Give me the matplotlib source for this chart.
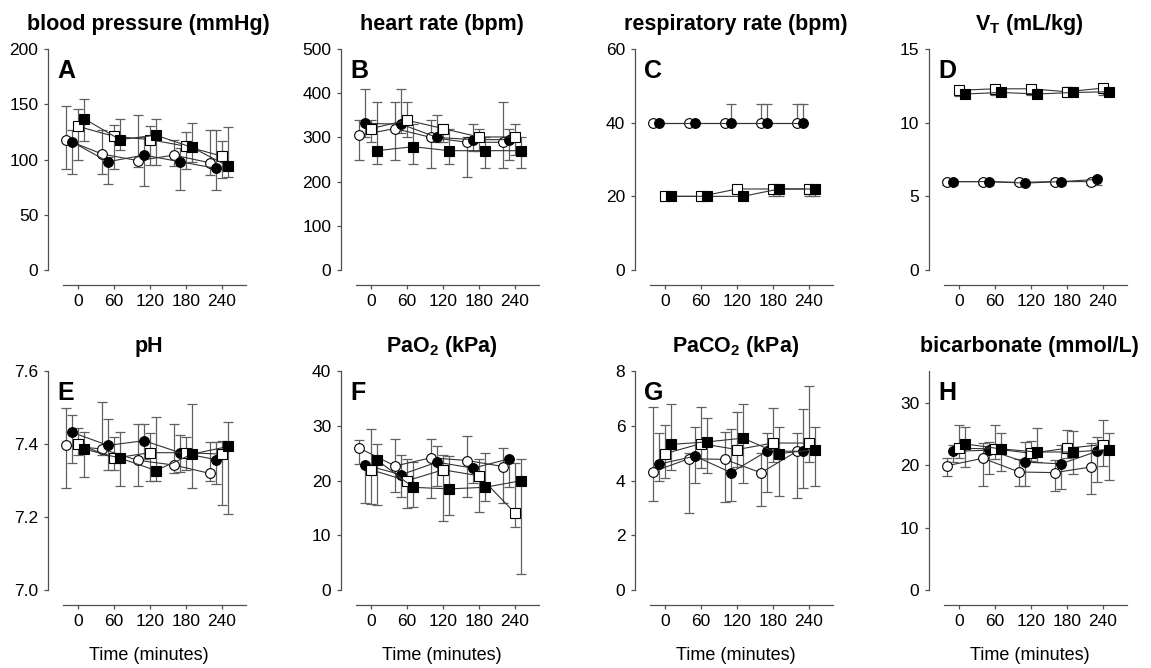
"""
    Haemodynamic and blood gas time courses, four groups, panels A-H
"""

import numpy as np
import matplotlib
import matplotlib.pyplot as plt
from matplotlib.ticker import FormatStrFormatter

matplotlib.use('agg')

plt.rcParams['font.family'] = ['Liberation Sans', 'DejaVu Sans']
plt.rcParams['mathtext.fontset'] = 'custom'
plt.rcParams['mathtext.rm'] = 'Liberation Sans'
plt.rcParams['mathtext.bf'] = 'Liberation Sans:bold'

# sampling times (minutes); groups are drawn side by side around each time
times = [0, 60, 120, 180, 240]
groupShift = [-20, -10, 0, 10]
# rows: open circle, filled circle, open square, filled square

# A blood pressure (mmHg)
bpMean = [[118, 105, 99, 104, 97], [116, 98, 104, 98, 92],
          [130, 121, 118, 112, 103], [137, 118, 122, 111, 94]]
bpLo = [[91, 87, 93, 94, 86], [87, 78, 76, 72, 72],
        [100, 91, 95, 91, 83], [117, 109, 95, 98, 84]]
bpHi = [[148, 127, 140, 118, 127], [127, 102, 120, 110, 127],
        [146, 131, 130, 125, 117], [155, 137, 137, 133, 129]]

# B heart rate (bpm)
hrMean = [[305, 320, 300, 289, 289], [332, 330, 300, 295, 295],
          [320, 339, 320, 301, 301], [270, 279, 270, 270, 270]]
hrLo = [[250, 250, 230, 210, 230], [300, 310, 290, 270, 250],
        [290, 300, 290, 270, 260], [240, 240, 240, 230, 230]]
hrHi = [[340, 380, 340, 300, 380], [410, 410, 350, 330, 320],
        [340, 380, 320, 320, 330], [380, 330, 320, 300, 300]]

# C respiratory rate (bpm)
rrMean = [[40, 40, 40, 40, 40], [40, 40, 40, 40, 40],
          [20, 20, 22, 22, 22], [20, 20, 20, 22, 22]]
rrLo = [[40, 40, 40, 40, 40], [40, 40, 40, 40, 40],
        [20, 20, 22, 20, 20], [20, 20, 20, 20, 20]]
rrHi = [[40, 40, 40, 45, 45], [40, 40, 45, 45, 45],
        [20, 20, 22, 22, 22], [20, 20, 20, 22, 22]]

# D tidal volume (mL/kg)
vtMean = [[6.0, 6.0, 5.95, 6.0, 6.0], [6.0, 6.0, 5.9, 6.0, 6.15],
          [12.2, 12.3, 12.3, 12.1, 12.35], [11.95, 12.05, 11.95, 12.05, 12.1]]
vtLo = [[5.8, 5.85, 5.85, 5.85, 5.8], [5.75, 5.8, 5.8, 5.8, 5.75],
        [11.8, 11.85, 11.85, 11.9, 11.85], [11.8, 11.85, 11.85, 11.85, 11.8]]
vtHi = [[6.1, 6.1, 6.05, 6.1, 6.1], [6.1, 6.1, 6.0, 6.1, 6.3],
        [12.35, 12.55, 12.5, 12.4, 12.6], [12.1, 12.2, 12.1, 12.2, 12.3]]

# E pH
phMean = [[7.397, 7.387, 7.356, 7.343, 7.320], [7.433, 7.397, 7.410, 7.377, 7.358],
          [7.401, 7.362, 7.377, 7.377, 7.373], [7.387, 7.362, 7.328, 7.373, 7.394]]
phLo = [[7.28, 7.37, 7.285, 7.32, 7.30], [7.35, 7.33, 7.36, 7.325, 7.29],
        [7.37, 7.33, 7.30, 7.33, 7.233], [7.31, 7.285, 7.30, 7.28, 7.21]]
phHi = [[7.50, 7.515, 7.455, 7.457, 7.407], [7.48, 7.47, 7.455, 7.425, 7.407],
        [7.445, 7.42, 7.43, 7.42, 7.41], [7.435, 7.435, 7.475, 7.51, 7.462]]

# F PaO2 (kPa)
pao2Mean = [[26.0, 22.7, 24.2, 23.7, 22.6], [22.9, 21.1, 23.4, 22.3, 24.0],
            [22.0, 20.0, 22.0, 20.9, 14.1], [23.8, 18.8, 18.5, 18.8, 20.0]]
pao2Lo = [[23.0, 18.0, 16.8, 17.0, 16.0], [16.0, 17.0, 19.0, 19.6, 18.8],
          [15.7, 15.0, 12.7, 14.2, 11.5], [15.5, 15.1, 13.7, 16.3, 3.0]]
pao2Hi = [[27.5, 27.6, 27.7, 28.2, 26.0], [22.9, 24.7, 26.3, 22.3, 24.0],
          [29.5, 24.0, 24.7, 24.0, 23.2], [26.8, 23.5, 24.6, 25.0, 24.0]]

# G PaCO2 (kPa)
paco2Mean = [[4.33, 4.81, 4.78, 4.29, 5.08], [4.61, 4.90, 4.30, 5.08, 5.08],
             [4.99, 5.36, 5.14, 5.38, 5.38], [5.33, 5.42, 5.56, 4.99, 5.14]]
paco2Lo = [[3.27, 2.82, 3.22, 3.08, 3.35], [4.0, 3.9, 3.25, 3.6, 3.75],
           [4.1, 4.45, 4.5, 4.7, 4.68], [4.4, 4.27, 3.92, 3.45, 3.8]]
paco2Hi = [[6.7, 5.0, 5.8, 5.0, 5.75], [5.75, 5.97, 5.9, 5.75, 6.62],
           [6.05, 6.7, 6.52, 6.67, 7.47], [6.8, 6.3, 6.8, 5.95, 5.98]]

# H bicarbonate (mmol/L)
hco3Mean = [[19.9, 21.1, 18.9, 18.8, 19.7], [22.2, 22.4, 20.5, 20.2, 22.2],
            [22.7, 22.6, 21.9, 22.7, 23.3], [23.4, 22.6, 22.1, 22.1, 22.5]]
hco3Lo = [[18.2, 16.7, 16.6, 15.9, 15.4], [20.5, 18.5, 16.7, 16.2, 17.3],
          [21.2, 21.0, 20.6, 21.2, 19.9], [19.7, 19.0, 20.5, 18.5, 17.6]]
hco3Hi = [[21.1, 23.5, 21.0, 20.8, 23.5], [23.3, 23.7, 23.7, 23.2, 24.5],
          [26.5, 26.4, 23.8, 25.7, 27.2], [26.1, 25.1, 26.0, 25.4, 25.1]]

panels = [
    ('blood pressure (mmHg)', 'A', bpMean, bpLo, bpHi, [0, 50, 100, 150, 200], 200, '%d'),
    ('heart rate (bpm)', 'B', hrMean, hrLo, hrHi, [0, 100, 200, 300, 400, 500], 500, '%d'),
    ('respiratory rate (bpm)', 'C', rrMean, rrLo, rrHi, [0, 20, 40, 60], 60, '%d'),
    (r'$\mathbf{V_T}$ (mL/kg)', 'D', vtMean, vtLo, vtHi, [0, 5, 10, 15], 15, '%d'),
    ('pH', 'E', phMean, phLo, phHi, [7.0, 7.2, 7.4, 7.6], 7.6, '%.1f'),
    (r'$\mathbf{PaO_2}$ (kPa)', 'F', pao2Mean, pao2Lo, pao2Hi, [0, 10, 20, 30, 40], 40, '%d'),
    (r'$\mathbf{PaCO_2}$ (kPa)', 'G', paco2Mean, paco2Lo, paco2Hi, [0, 2, 4, 6, 8], 8, '%d'),
    ('bicarbonate (mmol/L)', 'H', hco3Mean, hco3Lo, hco3Hi, [0, 10, 20, 30], 35, '%d'),
]

markers = [('o', 'white'), ('o', 'black'), ('s', 'white'), ('s', 'black')]
spineColor = '#505050'
barColor = '#606060'
lineColor = '#333333'

lefts = [0.0417, 0.2963, 0.5517, 0.8071]
rows = [(0.5958, 0.3308), (0.1168, 0.3271)]
axW = 0.1746


def plotPanel(ax, title, letter, mean, lo, hi, yticks, ytop, fmt, bottomRow):
    """ draw one panel with the four groups, error bars and axis styling """
    mean = np.array(mean)
    lo = np.array(lo)
    hi = np.array(hi)
    for g in range(4):
        x = np.array(times) + groupShift[g]
        yerr = [mean[g] - lo[g], hi[g] - mean[g]]
        ax.errorbar(x, mean[g], yerr=yerr, fmt='none', ecolor=barColor,
                    elinewidth=0.9, capsize=3.5, capthick=0.9, zorder=1,
                    clip_on=False)
    for g in range(4):
        x = np.array(times) + groupShift[g]
        m, fc = markers[g]
        ax.plot(x, mean[g], '-', color=lineColor, linewidth=0.8,
                marker=m, markersize=7 if m == 'o' else 6.6,
                markerfacecolor=fc, markeredgecolor='black',
                markeredgewidth=0.8, zorder=3 + g, clip_on=False)

    ax.set_xlim(-50, 285)
    ax.set_ylim(yticks[0], ytop)
    ax.set_yticks(yticks)
    ax.yaxis.set_major_formatter(FormatStrFormatter(fmt))
    ax.set_xticks(times)
    for side in ['top', 'right']:
        ax.spines[side].set_visible(False)
    for side in ['left', 'bottom']:
        ax.spines[side].set_color(spineColor)
        ax.spines[side].set_linewidth(0.9)
    ax.spines['bottom'].set_position(('outward', 11))
    ax.spines['bottom'].set_bounds(-25, 280)
    ax.tick_params(axis='both', direction='out', length=3, width=0.9,
                   color=spineColor, labelsize=12.5, labelcolor='black')
    ax.tick_params(axis='y', pad=4)
    ax.tick_params(axis='x', pad=3)
    ax.set_title(title, fontsize=15.5, fontweight='bold', pad=14)
    ax.text(0.045, 0.955, letter, transform=ax.transAxes, va='top', ha='left',
            fontsize=18, fontweight='bold')
    if bottomRow:
        ax.set_xlabel('Time (minutes)', fontsize=13, labelpad=13)


fig = plt.figure(figsize=(11.51, 6.68), dpi=100)
for i, (title, letter, mean, lo, hi, yticks, ytop, fmt) in enumerate(panels):
    bottom, height = rows[i // 4]
    ax = fig.add_axes([lefts[i % 4], bottom, axW, height])
    plotPanel(ax, title, letter, mean, lo, hi, yticks, ytop, fmt, i >= 4)

fig.savefig('out.png', dpi=100)
